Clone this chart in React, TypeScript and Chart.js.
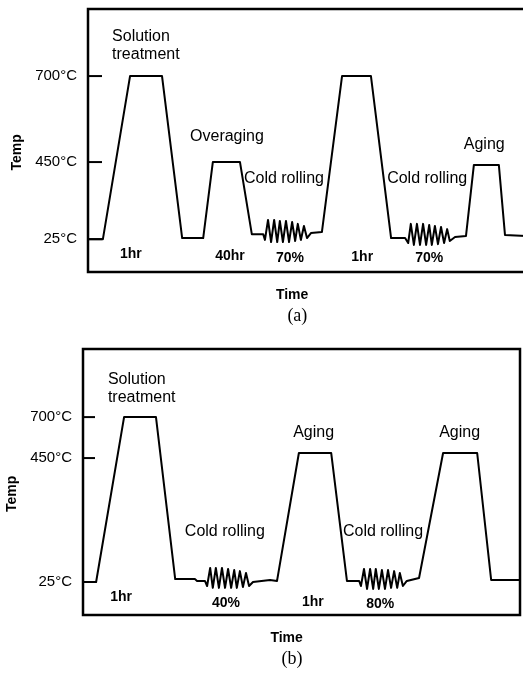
import React, { useEffect, useRef } from 'react';
import { Chart, registerables } from 'chart.js';

Chart.register(...registerables);

// ---------- data ----------
const tempTickLabels = ['25°C', '450°C', '700°C'];
// schematic heights (0-100) at which each temperature is drawn in each panel
const tempLevelsA = [12.5, 41.8, 74.5];
const tempLevelsB = [12.4, 59.0, 74.4];

// panel (a) – time (arbitrary units 0-100) and schematic height
const timeA = [
  0, 3.4, 9.6, 16.9, 21.5, 26.3, 28.5, 34.7, 37.4, 40.0,
  40.4, 41.1, 41.8, 42.5, 43.2, 43.8, 44.5, 45.2, 45.9, 46.6, 47.3, 47.9, 48.6, 49.3, 50.0, 50.9,
  53.4, 58.0, 64.6, 69.2, 72.4,
  73.1, 73.7, 74.4, 75.1, 75.8, 76.5, 77.2, 77.9, 78.5, 79.2, 79.9, 80.6, 81.3, 82.0, 82.6, 83.8,
  86.3, 88.1, 93.8, 95.2, 100,
];
const heightA = [
  12.5, 12.5, 74.5, 74.5, 12.9, 12.9, 41.8, 41.8, 14.4, 14.4,
  12.2, 19.8, 11.4, 19.8, 11.4, 19.4, 11.4, 19.4, 11.4, 19.0, 11.8, 18.3, 12.2, 17.5, 12.9, 14.8,
  15.2, 74.5, 74.5, 12.9, 12.9,
  11.0, 18.3, 10.3, 18.3, 10.3, 18.3, 10.3, 17.9, 10.3, 17.5, 10.6, 17.1, 11.0, 16.3, 11.8, 13.3,
  13.7, 40.7, 40.7, 14.1, 13.7,
];

// panel (b)
const timeB = [
  0, 3.0, 9.4, 16.7, 21.1, 25.6, 26.1, 27.9,
  28.4, 29.1, 29.7, 30.4, 31.1, 31.8, 32.5, 33.2, 33.9, 34.6, 35.2, 35.9, 36.6, 37.3, 38.0, 38.9,
  42.8, 44.4, 49.4, 56.8, 60.4, 63.2,
  63.6, 64.3, 65.0, 65.7, 66.4, 67.0, 67.7, 68.4, 69.1, 69.8, 70.5, 71.2, 71.9, 72.5, 73.2, 74.1,
  76.9, 82.4, 90.2, 93.4, 100,
];
const heightB = [
  12.4, 12.4, 74.4, 74.4, 13.5, 13.5, 12.8, 12.8,
  10.9, 17.7, 10.2, 17.7, 10.2, 17.7, 10.2, 17.3, 10.2, 16.9, 10.2, 16.5, 10.5, 15.8, 10.9, 12.4,
  13.2, 12.8, 60.9, 60.9, 12.8, 12.8,
  10.9, 17.3, 9.8, 17.3, 9.8, 17.3, 9.8, 16.9, 9.8, 16.9, 10.2, 16.5, 10.2, 15.8, 10.9, 12.8,
  13.9, 60.9, 60.9, 13.2, 13.2,
];

// step labels (left-anchored) and note labels (centred), in data units
const stepTextA = ['Solution', 'treatment', 'Overaging', 'Cold rolling', 'Cold rolling', 'Aging'];
const stepXA = [5.5, 5.5, 23.3, 35.6, 68.3, 85.8];
const stepYA = [89.4, 82.5, 51.3, 35.7, 35.7, 48.3];
const noteTextA = ['1hr', '40hr', '70%', '1hr', '70%'];
const noteXA = [9.8, 32.4, 46.1, 62.6, 77.9];
const noteYA = [6.8, 6.1, 5.3, 5.7, 5.3];

const stepTextB = ['Solution', 'treatment', 'Cold rolling', 'Aging', 'Cold rolling', 'Aging'];
const stepXB = [5.7, 5.7, 23.3, 48.1, 59.5, 81.5];
const stepYB = [88.4, 81.6, 31.2, 68.4, 31.2, 68.4];
const noteTextB = ['1hr', '40%', '1hr', '80%'];
const noteXB = [8.7, 32.7, 52.6, 68.0];
const noteYB = [6.8, 4.5, 4.9, 4.1];

const yTitle = 'Temp';
const xTitle = 'Time';

// ---------- plugins ----------
const SANS = '"Liberation Sans", Arial, Helvetica, sans-serif';
const SERIF = '"Liberation Serif", "Times New Roman", serif';

const framePlugin = {
  id: 'frame',
  afterDatasetsDraw(chart: any, _args: any, opts: any) {
    const { ctx, chartArea: a, scales } = chart;
    ctx.save();
    ctx.strokeStyle = '#000';
    ctx.lineWidth = opts.width;
    ctx.strokeRect(a.left, a.top, a.right - a.left, a.bottom - a.top);
    const ys = scales.y;
    ctx.lineWidth = 2;
    ys.ticks.forEach((t: any) => {
      const py = ys.getPixelForValue(t.value);
      ctx.beginPath();
      ctx.moveTo(a.left, py);
      ctx.lineTo(a.left + opts.tickLen, py);
      ctx.stroke();
    });
    ctx.restore();
  },
};

const textPlugin = {
  id: 'schematicText',
  afterDraw(chart: any, _args: any, opts: any) {
    const { ctx, chartArea: a, scales } = chart;
    const xs = scales.x;
    const ys = scales.y;
    ctx.save();
    ctx.fillStyle = '#000';
    ctx.textBaseline = 'middle';

    ctx.font = `16px ${SANS}`;
    ctx.textAlign = 'left';
    opts.stepText.forEach((t: string, i: number) => {
      ctx.fillText(t, xs.getPixelForValue(opts.stepX[i]), ys.getPixelForValue(opts.stepY[i]));
    });

    ctx.font = `bold 14px ${SANS}`;
    ctx.textAlign = 'center';
    opts.noteText.forEach((t: string, i: number) => {
      ctx.fillText(t, xs.getPixelForValue(opts.noteX[i]), ys.getPixelForValue(opts.noteY[i]));
    });

    // axis titles
    ctx.font = `bold 14px ${SANS}`;
    ctx.fillText(xTitle, xs.getPixelForValue(opts.xTitleAt), a.bottom + opts.xTitleGap);
    ctx.save();
    ctx.translate(a.left + opts.yTitleDx, ys.getPixelForValue(opts.yTitleAt));
    ctx.rotate(-Math.PI / 2);
    ctx.fillText(yTitle, 0, 0);
    ctx.restore();

    // caption
    ctx.font = `18px ${SERIF}`;
    ctx.fillText(opts.caption, xs.getPixelForValue(opts.captionAt), a.bottom + opts.captionGap);
    ctx.restore();
  },
};

// ---------- panel ----------
type PanelCfg = {
  top: number;
  w: number;
  h: number;
  padTop: number;
  padRight: number;
  yAxisW: number;
  xAxisH: number;
  tickLen: number;
  levels: number[];
  time: number[];
  height: number[];
  stepText: string[];
  stepX: number[];
  stepY: number[];
  noteText: string[];
  noteX: number[];
  noteY: number[];
  caption: string;
  captionGap: number;
};

function Panel({ cfg }: { cfg: PanelCfg }) {
  const ref = useRef<HTMLCanvasElement | null>(null);
  useEffect(() => {
    if (!ref.current) return;
    const zeroPad = (s: any) => {
      s.paddingTop = 0;
      s.paddingBottom = 0;
      s.paddingLeft = 0;
      s.paddingRight = 0;
    };
    const chart = new Chart(ref.current, {
      type: 'line',
      data: {
        datasets: [
          {
            data: cfg.time.map((t, i) => ({ x: t, y: cfg.height[i] })),
            borderColor: '#000',
            borderWidth: 2,
            pointRadius: 0,
            tension: 0,
            fill: false,
            borderJoinStyle: 'round',
          } as any,
        ],
      },
      options: {
        animation: false,
        responsive: false,
        devicePixelRatio: 1,
        events: [],
        layout: { padding: { top: cfg.padTop, left: 0, right: cfg.padRight, bottom: 0 } },
        plugins: {
          legend: { display: false },
          tooltip: { enabled: false },
          title: { display: false },
          frame: { width: 2.5, tickLen: cfg.tickLen },
          schematicText: {
            stepText: cfg.stepText,
            stepX: cfg.stepX,
            stepY: cfg.stepY,
            noteText: cfg.noteText,
            noteX: cfg.noteX,
            noteY: cfg.noteY,
            xTitleAt: 46.6,
            xTitleGap: 23,
            yTitleDx: -71,
            yTitleAt: 45.5,
            caption: cfg.caption,
            captionAt: 47.8,
            captionGap: cfg.captionGap,
          },
        } as any,
        scales: {
          x: {
            type: 'linear',
            min: 0,
            max: 100,
            ticks: { display: false },
            grid: { display: false, drawTicks: false },
            border: { display: false },
            afterFit: (s: any) => {
              s.height = cfg.xAxisH;
              zeroPad(s);
            },
          },
          y: {
            type: 'linear',
            min: 0,
            max: 100,
            afterBuildTicks: (s: any) => {
              s.ticks = cfg.levels.map((v) => ({ value: v }));
            },
            ticks: {
              callback: (_v: any, i: number) => tempTickLabels[i],
              padding: 11,
              color: '#000',
              font: { family: SANS, size: 15 },
            },
            grid: { display: false, drawTicks: false },
            border: { display: false },
            afterFit: (s: any) => {
              s.width = cfg.yAxisW;
              zeroPad(s);
            },
          },
        },
      },
      plugins: [framePlugin, textPlugin],
    });
    return () => chart.destroy();
  }, [cfg]);
  return (
    <canvas
      ref={ref}
      width={cfg.w}
      height={cfg.h}
      style={{ position: 'absolute', left: 0, top: cfg.top, width: cfg.w, height: cfg.h }}
    />
  );
}

const cfgA: PanelCfg = {
  top: 0,
  w: 530,
  h: 330,
  padTop: 9,
  padRight: 4,
  yAxisW: 88,
  xAxisH: 58,
  tickLen: 14,
  levels: tempLevelsA,
  time: timeA,
  height: heightA,
  stepText: stepTextA,
  stepX: stepXA,
  stepY: stepYA,
  noteText: noteTextA,
  noteX: noteXA,
  noteY: noteYA,
  caption: '(a)',
  captionGap: 44,
};

const cfgB: PanelCfg = {
  top: 335,
  w: 523,
  h: 338,
  padTop: 14,
  padRight: 3,
  yAxisW: 83,
  xAxisH: 58,
  tickLen: 12,
  levels: tempLevelsB,
  time: timeB,
  height: heightB,
  stepText: stepTextB,
  stepX: stepXB,
  stepY: stepYB,
  noteText: noteTextB,
  noteX: noteXB,
  noteY: noteYB,
  caption: '(b)',
  captionGap: 44,
};

export default function App() {
  return (
    <div
      style={{
        position: 'absolute',
        left: 0,
        top: 0,
        width: 523,
        height: 673,
        overflow: 'hidden',
        background: '#fff',
      }}
    >
      <Panel cfg={cfgA} />
      <Panel cfg={cfgB} />
    </div>
  );
}
